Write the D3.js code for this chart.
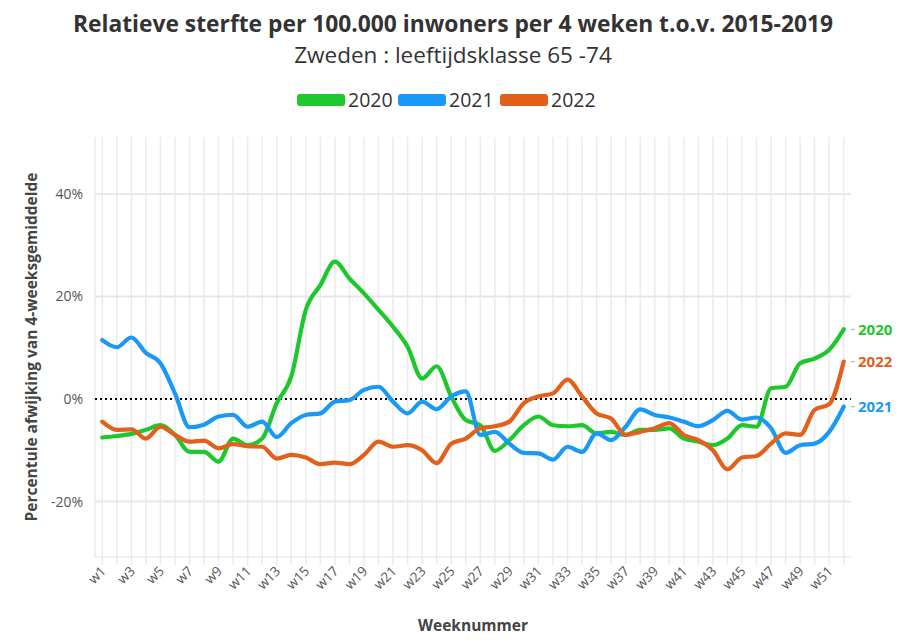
<!DOCTYPE html>
<html><head><meta charset="utf-8">
<script src="https://cdn.jsdelivr.net/npm/d3@7"></script>
<style>
body{margin:0;background:#fff;}
svg{font-family:"Open Sans","Noto Sans",sans-serif;}
</style></head><body>
<svg id="c" width="901" height="644"></svg>
<script>
const weeks = d3.range(1,53).map(i=>"w"+i);
const seriesNames = ["2020","2021","2022"];
const colors = ["#1ec72b","#1a98f5","#e2601a"];
const v2020 = [-7.5,-7.2,-6.8,-6.0,-5.1,-7.0,-10.3,-10.3,-12.2,-7.7,-9.0,-7.7,-0.8,4.4,17.4,22.2,26.8,23.5,20.6,17.4,14.1,10.2,4.0,6.4,0.5,-4.1,-5.1,-10.1,-8.0,-5.1,-3.4,-5.1,-5.3,-5.1,-6.7,-6.4,-7.0,-6.0,-6.0,-5.7,-7.7,-8.3,-9.0,-7.7,-5.1,-5.4,2.1,2.4,7.0,7.9,9.6,13.6];
const v2021 = [11.5,10.1,12.0,9.0,7.0,1.1,-5.5,-5.0,-3.4,-3.1,-5.4,-4.4,-7.4,-4.7,-3.1,-2.8,-0.5,-0.2,1.8,2.4,-0.5,-2.8,-0.5,-2.0,0.5,1.5,-7.0,-6.4,-8.7,-10.5,-10.6,-11.8,-9.3,-10.3,-6.7,-8.0,-5.4,-2.0,-3.1,-3.6,-4.4,-5.3,-4.1,-2.3,-4.0,-3.6,-5.7,-10.5,-9.0,-8.7,-6.4,-1.5];
const v2022 = [-4.4,-6.0,-5.9,-7.7,-5.4,-7.0,-8.3,-8.1,-9.6,-8.8,-9.2,-9.3,-11.6,-10.9,-11.4,-12.7,-12.4,-12.7,-10.9,-8.3,-9.3,-9.0,-10.0,-12.5,-8.7,-7.7,-5.7,-5.3,-4.4,-0.8,0.5,1.1,3.8,0.5,-2.8,-3.8,-7.0,-6.4,-5.7,-4.7,-7.0,-8.0,-10.0,-13.7,-11.4,-11.1,-8.7,-6.7,-7.0,-2.1,-1.0,7.3];
const seriesValues = [v2020,v2021,v2022];
const yTicks = [-20,0,20,40];

const svg = d3.select("#c");
const L=95,R=851,T=137,B=557;
const x = d3.scalePoint().domain(weeks).range([L,R]).padding(0.5);
const y = d3.scaleLinear().domain([-30.8,51.1]).range([B,T]);

svg.append("g").selectAll("line").data(weeks).join("line")
  .attr("x1",d=>x(d)).attr("x2",d=>x(d)).attr("y1",T).attr("y2",B+8)
  .attr("stroke","#ebebeb").attr("stroke-width",1.5);
svg.append("line").attr("x1",L).attr("x2",L).attr("y1",T).attr("y2",B)
  .attr("stroke","#ebebeb").attr("stroke-width",1.5);
svg.append("g").selectAll("line").data(yTicks.filter(d=>d!==0)).join("line")
  .attr("x1",L).attr("x2",R).attr("y1",d=>y(d)).attr("y2",d=>y(d))
  .attr("stroke","#e8e8e8").attr("stroke-width",2);
svg.append("line").attr("x1",L).attr("x2",R).attr("y1",B).attr("y2",B)
  .attr("stroke","#ebebeb").attr("stroke-width",1.5);

const yAxis = d3.axisLeft(y).tickValues(yTicks).tickSize(0).tickPadding(12).tickFormat(d=>d+"%");
const ya = svg.append("g").attr("transform",`translate(${L},0)`).call(yAxis);
ya.select(".domain").remove();
ya.selectAll("text").attr("fill","#555").attr("font-size",14).attr("font-family","'Open Sans',sans-serif");

const xAxis = d3.axisBottom(x).tickValues(weeks.filter((d,i)=>i%2===0)).tickSize(0).tickPadding(0);
const xa = svg.append("g").attr("transform",`translate(0,${B})`).call(xAxis);
xa.select(".domain").remove();
xa.selectAll("text").attr("fill","#555").attr("font-size",13.5).attr("font-family","'Open Sans',sans-serif")
  .attr("text-anchor","end").attr("dy",0)
  .attr("transform","translate(4,15) rotate(-45)");

svg.append("line").attr("x1",L).attr("x2",R).attr("y1",y(0)).attr("y2",y(0))
  .attr("stroke","#000").attr("stroke-width",2).attr("stroke-dasharray","2,3");

const line = d3.line().x((d,i)=>x(weeks[i])).y(d=>y(d)).curve(d3.curveMonotoneX);
seriesValues.forEach((vals,k)=>{
  svg.append("path").datum(vals).attr("d",line).attr("fill","none")
    .attr("stroke",colors[k]).attr("stroke-width",4.2).attr("stroke-linejoin","round").attr("stroke-linecap","round");
});
seriesValues.forEach((vals,k)=>{
  const yy = y(vals[vals.length-1]);
  svg.append("line").attr("x1",R).attr("x2",R+4).attr("y1",yy).attr("y2",yy).attr("stroke","#aaa").attr("stroke-width",1);
  svg.append("text").attr("x",R+7).attr("y",yy).attr("dy","0.35em").attr("fill",colors[k])
    .attr("font-size",15).attr("font-weight","bold").text(seriesNames[k]);
});

svg.append("text").attr("x",453).attr("y",32).attr("text-anchor","middle").attr("font-size",22.8)
  .attr("font-weight","bold").attr("fill","#333").text("Relatieve sterfte per 100.000 inwoners per 4 weken t.o.v. 2015-2019");
svg.append("text").attr("x",453).attr("y",63).attr("text-anchor","middle").attr("font-size",22.5)
  .attr("fill","#333").text("Zweden : leeftijdsklasse 65 -74");

const legX=[297,398,500];
seriesNames.forEach((n,k)=>{
  svg.append("rect").attr("x",legX[k]).attr("y",94).attr("width",48).attr("height",12).attr("rx",3)
    .attr("fill",colors[k]);
  svg.append("text").attr("x",legX[k]+51).attr("y",100).attr("dy","0.35em").attr("font-size",19.5)
    .attr("fill","#333").text(n);
});

svg.append("text").attr("x",473).attr("y",631).attr("text-anchor","middle").attr("font-size",15.5)
  .attr("font-weight","bold").attr("fill","#444").text("Weeknummer");
svg.append("text").attr("transform","translate(37,347) rotate(-90)").attr("text-anchor","middle")
  .attr("font-size",15.5).attr("font-weight","bold").attr("fill","#444").text("Percentule afwijking van 4-weeksgemiddelde");
</script></body></html>
